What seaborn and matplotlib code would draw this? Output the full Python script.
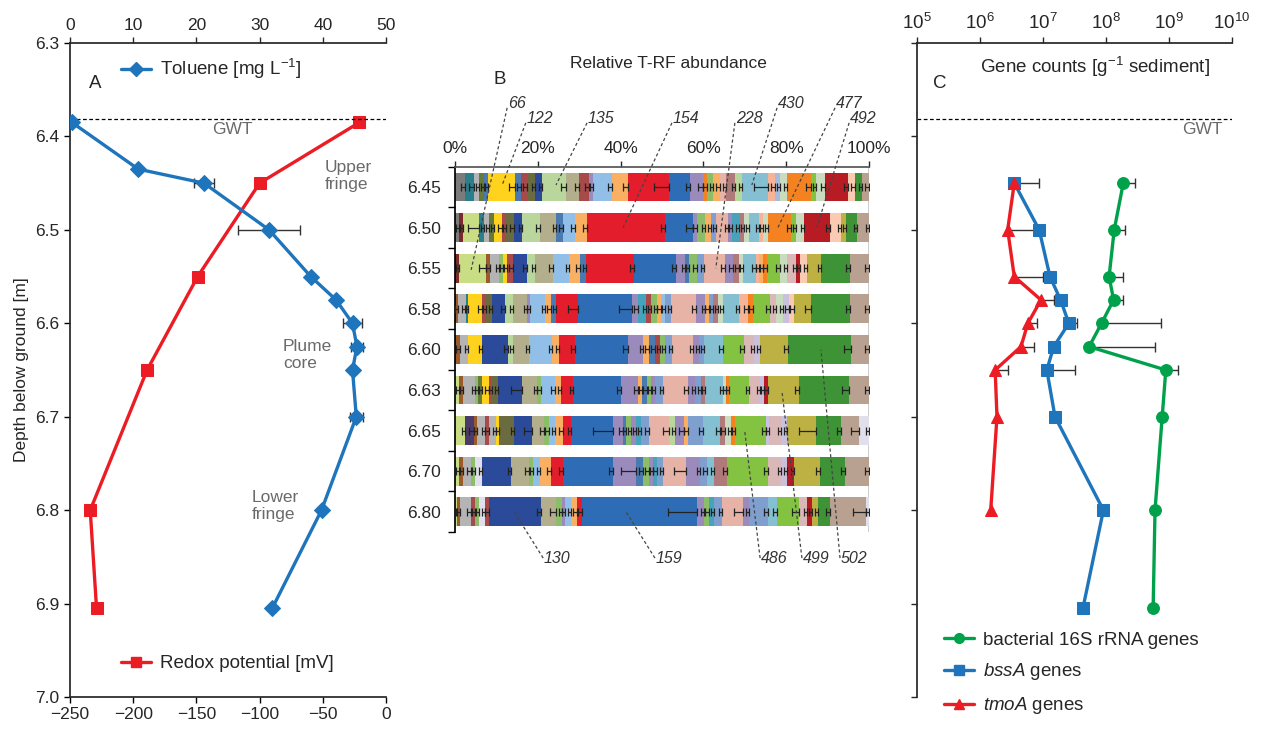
import numpy as np
import matplotlib
matplotlib.use("Agg")
import matplotlib.pyplot as plt
import seaborn as sns
from matplotlib.lines import Line2D
from matplotlib.ticker import FixedLocator, NullLocator, NullFormatter, FuncFormatter

sns.set_theme(style="ticks")
plt.rcParams['font.family'] = ['Liberation Sans', 'DejaVu Sans']
plt.rcParams['mathtext.fontset'] = 'custom'
plt.rcParams['mathtext.rm'] = 'Liberation Sans'
plt.rcParams['mathtext.it'] = 'Liberation Sans:italic'
plt.rcParams['mathtext.default'] = 'regular'

# ---------------- Panel A data ----------------
tol_depth = [6.385, 6.435, 6.45, 6.50, 6.55, 6.575, 6.60, 6.625, 6.65, 6.70, 6.80, 6.905]
tol_val = [0.3, 10.8, 21.2, 31.5, 38.1, 42.1, 44.7, 45.4, 44.7, 45.3, 39.8, 32.0]
tol_err = [0, 0, 1.6, 4.9, 0, 0, 1.45, 0.9, 0, 1.0, 0, 0]
redox_depth = [6.385, 6.45, 6.55, 6.65, 6.80, 6.905]
redox_val = [-21, -100, -149, -189, -234, -229]
gwt_depth = 6.381

# ---------------- Panel C data ----------------
gene_depth = [6.45, 6.50, 6.55, 6.575, 6.60, 6.625, 6.65, 6.70, 6.80, 6.905]
s16_val = [1.88e8, 1.35e8, 1.12e8, 1.32e8, 8.5e7, 5.4e7, 8.9e8, 7.8e8, 6.0e8, 5.6e8]
s16_err = [1.0e8, 6.5e7, 7.4e7, 5.4e7, 6.55e8, 5.5e8, 5.1e8, 0, 0, 0]
bss_val = [3.5e6, 8.7e6, 1.29e7, 1.9e7, 2.57e7, 1.48e7, 1.15e7, 1.55e7, 9.1e7, 4.3e7]
bss_err = [5.0e6, 0, 0, 0, 9.0e6, 0, 2.1e7, 0, 0, 0]
tmo_depth = [6.45, 6.50, 6.55, 6.575, 6.60, 6.625, 6.65, 6.70, 6.80]
tmo_val = [3.5e6, 2.75e6, 3.5e6, 9.3e6, 5.75e6, 4.47e6, 1.74e6, 1.86e6, 1.48e6]
tmo_err = [0, 5.95e6, 6.5e6, 5.8e6, 2.2e6, 2.6e6, 1.06e6, 0, 0]

# ---------------- Panel B data ----------------
PAL = {
    'gray': '#7b7b7b', 'darkred': '#7a2a2a', 'ygreen': '#c9dd85', 'dpurple': '#4b3b6b',
    'brown': '#9a5a2a', 'teal': '#2b7f8c', 'lgray': '#b4b4b4', 'brick': '#a84a4a',
    'glight': '#8cbd68', 'olive': '#667a3c', 'steel': '#4a7ab0', 'yellow': '#ffd21e',
    'odark': '#6b6b40', 'plav': '#e2dfec', 'dblue': '#2b4a99', 'lgreen': '#b9d69c',
    'tan': '#b3ae8b', 'purple': '#9b8bbd', 'lblue': '#92bfe8', 'lorange': '#f9b062',
    'red': '#e31d2b', 'blue': '#2e6db5', 'tcyan': '#45a4bc', 'orange': '#f58220',
    'lsteel': '#7f9fcf', 'pink': '#e6b3a6', 'mauve': '#b07a7a', 'pgreen': '#c9dcbf',
    'lcyan': '#84c0d2', 'salmon': '#f6b395', 'bgray': '#a9badf', 'lime': '#84c341',
    'pinkish': '#dbb8b8', 'lav': '#c9c1dc', 'dred': '#b71c25', 'peach': '#fbcab3',
    'khaki': '#bdb144', 'green': '#3f9337', 'taupe': '#b9a192',
}

depth_labels = ["6.45", "6.50", "6.55", "6.58", "6.60", "6.63", "6.65", "6.70", "6.80"]

# (T-RF colour key, relative abundance %, SD %)
trf_645 = [("gray", 2.4, 1.0), ("teal", 2.2, 1.1), ("lgray", 1.2, .8), ("olive", 1.2, .8), ("steel", 1.0, .8),
           ("yellow", 6.5, 1.5), ("steel", 1.4, .9), ("brick", 1.4, .8), ("odark", 2.1, .8), ("dblue", 1.7, .9),
           ("lgreen", 5.7, 1.2), ("tan", 3.2, .9), ("brick", 2.3, .9), ("purple", 1.1, .8), ("lblue", 4.6, 1.1),
           ("lorange", 3.7, 1.0), ("red", 10.1, 3.8), ("blue", 5.0, 1.0), ("purple", 3.0, 1.0), ("orange", 1.0, .8),
           ("glight", 1.6, .8), ("lorange", 1.5, .8), ("pink", 1.6, .8), ("mauve", 2.2, .9), ("lgreen", 1.7, .8),
           ("lcyan", 6.2, 3.4), ("salmon", 1.6, .8), ("bgray", 1.4, .8), ("pgreen", 1.6, .8), ("orange", 5.7, 1.0),
           ("lime", 1.4, .8), ("pgreen", 2.0, .9), ("dred", 5.6, 1.0), ("peach", 1.6, .8), ("green", 1.9, .9),
           ("taupe", 1.6, .9)]
trf_650 = [("gray", 1.0, .8), ("darkred", 0.9, .8), ("ygreen", 4.0, 2.7), ("teal", 1.1, .8), ("lgray", 1.2, .8),
           ("olive", 1.2, .8), ("yellow", 1.9, .9), ("brick", 1.1, .8), ("odark", 1.8, .8), ("dblue", 2.1, .8),
           ("lgreen", 4.2, .9), ("tan", 4.0, .9), ("steel", 1.5, .8), ("lblue", 3.0, .9), ("lorange", 2.9, .9),
           ("red", 18.9, 1.0), ("blue", 6.6, 1.6), ("purple", 1.0, .8), ("glight", 2.1, .8), ("lorange", 1.4, .8),
           ("lsteel", 1.1, .8), ("pink", 3.0, .9), ("purple", 1.0, .8), ("tcyan", 1.7, .8), ("mauve", 1.2, .8),
           ("pgreen", 1.2, .8), ("lcyan", 2.3, .8), ("salmon", 1.0, .8), ("pgreen", 1.2, .8), ("orange", 5.6, 1.0),
           ("lime", 1.2, .8), ("pgreen", 2.0, .8), ("dred", 6.2, .9), ("peach", 2.7, .8), ("khaki", 1.2, .8),
           ("green", 2.6, .8), ("taupe", 2.9, .8)]
trf_655 = [("darkred", 1.0, .8), ("ygreen", 6.6, 1.8), ("brown", 0.8, .8), ("lgray", 2.2, .8), ("glight", 1.0, .8),
           ("yellow", 1.0, .8), ("brick", 1.3, .8), ("dblue", 3.4, .9), ("lgreen", 2.1, .8), ("tan", 4.3, .9),
           ("lblue", 3.9, .9), ("lorange", 2.6, .9), ("steel", 1.4, .8), ("red", 11.7, 1.0), ("blue", 10.2, 1.0),
           ("purple", 2.1, .8), ("steel", 1.0, .8), ("glight", 1.8, .8), ("lsteel", 1.8, .8), ("pink", 5.1, 1.0),
           ("purple", 1.8, .8), ("mauve", 1.4, .8), ("pgreen", 1.1, .8), ("lcyan", 3.0, .9), ("salmon", 0.9, .8),
           ("lorange", 1.0, .8), ("orange", 0.8, .8), ("lime", 3.1, .8), ("pgreen", 1.8, .8), ("pinkish", 2.2, .8),
           ("dred", 1.0, .8), ("peach", 1.7, .8), ("khaki", 3.4, .8), ("green", 6.8, .9), ("taupe", 4.7, .9)]
trf_658 = [("brown", 0.8, .8), ("lgray", 1.8, .8), ("teal", 0.6, .8), ("yellow", 3.3, .9), ("brick", 1.1, .8),
           ("odark", 1.4, .8), ("dblue", 3.1, .9), ("lgreen", 1.9, .8), ("tan", 3.5, .9), ("purple", 0.6, .8),
           ("lblue", 3.7, .9), ("lorange", 1.3, .8), ("steel", 1.4, .8), ("red", 5.3, 2.4), ("blue", 12.9, 3.0),
           ("purple", 1.4, .8), ("tcyan", 2.0, .8), ("brick", 1.2, .8), ("glight", 1.6, .8), ("lorange", 0.8, .8),
           ("lblue", 1.1, .8), ("lsteel", 1.4, .8), ("pink", 5.9, .9), ("purple", 2.4, .9), ("lorange", 0.8, .8),
           ("lsteel", 1.1, .8), ("mauve", 1.1, .8), ("pgreen", 1.3, .8), ("lcyan", 3.9, .9), ("salmon", 2.0, .8),
           ("orange", 1.2, .8), ("lime", 4.2, .9), ("pinkish", 1.5, .8), ("pgreen", 1.6, .8), ("lav", 1.4, .8),
           ("peach", 1.2, .8), ("khaki", 4.3, 1.6), ("green", 9.4, 1.0), ("taupe", 4.5, .9)]
trf_660 = [("brown", 1.1, .8), ("lgray", 2.1, .8), ("yellow", 3.4, .9), ("dblue", 6.1, .8), ("lgreen", 1.3, .8),
           ("tan", 3.9, .8), ("lblue", 5.5, .8), ("lorange", 1.8, .8), ("red", 3.8, .9), ("blue", 12.7, 1.0),
           ("purple", 3.8, .8), ("lorange", 1.3, .8), ("steel", 1.4, .8), ("brick", 1.3, .8), ("glight", 1.3, .8),
           ("lsteel", 1.6, .8), ("pink", 5.2, .8), ("purple", 1.4, .8), ("lsteel", 1.2, .8), ("lcyan", 4.5, .9),
           ("lime", 5.0, .8), ("pinkish", 2.6, .9), ("lav", 1.4, .8), ("khaki", 6.7, .9), ("green", 15.3, 1.8),
           ("taupe", 4.3, .9)]
trf_663 = [("ygreen", 1.0, .8), ("brown", 0.9, .8), ("lgray", 2.9, .8), ("glight", 0.8, .8), ("olive", 1.0, .8),
           ("yellow", 1.5, .8), ("brick", 0.8, .8), ("odark", 1.6, .8), ("dblue", 5.8, 2.8), ("tan", 3.6, .9),
           ("glight", 0.8, .8), ("lblue", 3.5, .9), ("lorange", 1.4, .8), ("red", 2.9, .8), ("blue", 11.6, 1.0),
           ("purple", 4.0, .8), ("lorange", 1.1, .8), ("steel", 1.1, .8), ("glight", 1.0, .8), ("purple", 1.1, .8),
           ("lsteel", 1.9, .8), ("pink", 5.9, .8), ("purple", 1.8, .8), ("lsteel", 1.4, .8), ("mauve", 1.1, .8),
           ("lcyan", 4.2, .8), ("pgreen", 0.8, .8), ("orange", 0.8, .8), ("lime", 4.8, .8), ("pinkish", 2.6, .8),
           ("lav", 1.0, .8), ("dred", 0.8, .8), ("khaki", 7.6, .9), ("green", 12.1, 1.8), ("taupe", 4.8, .9)]
trf_665 = [("ygreen", 2.4, .8), ("dpurple", 2.2, 1.1), ("brown", 0.8, .8), ("lgray", 1.9, .8), ("brick", 0.8, .8),
           ("lgray", 1.9, .9), ("yellow", 0.6, .8), ("odark", 3.7, .8), ("dblue", 4.2, 1.9), ("tan", 3.0, .9),
           ("glight", 1.1, .8), ("lblue", 1.6, .8), ("lorange", 1.8, .8), ("red", 2.0, .8), ("blue", 10.1, 4.8),
           ("purple", 2.4, .8), ("steel", 0.8, .8), ("glight", 1.2, .8), ("purple", 1.2, .8), ("tcyan", 1.2, .8),
           ("lsteel", 1.9, .8), ("pink", 5.0, 1.6), ("lgreen", 1.4, .8), ("purple", 2.0, 1.1), ("lorange", 1.0, .8),
           ("lsteel", 3.6, .8), ("lcyan", 4.1, .9), ("mauve", 1.2, .8), ("pgreen", 1.6, .8), ("orange", 1.0, .8),
           ("lime", 7.3, .8), ("lav", 0.9, .8), ("pinkish", 2.9, .8), ("lav", 1.4, .8), ("khaki", 6.9, 4.0),
           ("green", 6.2, 1.0), ("taupe", 4.3, 2.0), ("plav", 2.4, .8)]
trf_670 = [("ygreen", 1.0, .8), ("brown", 0.9, .8), ("lgray", 1.9, .8), ("glight", 1.0, .8), ("plav", 1.7, .8),
           ("dblue", 7.0, .8), ("tan", 4.4, .9), ("glight", 1.0, .8), ("lblue", 1.6, .8), ("lorange", 2.6, .9),
           ("red", 2.9, .9), ("blue", 12.1, .8), ("purple", 5.6, 3.6), ("steel", 1.6, .9), ("glight", 1.5, .8),
           ("purple", 1.1, .8), ("tcyan", 0.8, .8), ("lsteel", 1.6, .8), ("pink", 5.5, 3.0), ("purple", 3.4, .8),
           ("lsteel", 1.6, .8), ("lcyan", 1.8, .8), ("mauve", 3.0, .8), ("lime", 9.9, .8), ("pinkish", 3.2, .8),
           ("lav", 1.6, .8), ("dred", 1.7, .8), ("khaki", 6.2, .9), ("green", 5.9, .9), ("taupe", 5.9, .9)]
trf_680 = [("ygreen", 0.6, .8), ("brown", 0.5, .8), ("lgray", 2.7, .8), ("brick", 1.0, .8), ("glight", 1.1, .8),
           ("plav", 1.4, .8), ("brick", 0.8, .8), ("dblue", 12.6, .8), ("tan", 3.8, 1.5), ("glight", 1.3, .8),
           ("purple", 0.8, .8), ("lblue", 1.4, .8), ("lorange", 1.4, .8), ("red", 1.2, .8), ("blue", 27.8, 7.0),
           ("purple", 1.8, .8), ("glight", 1.1, .8), ("tcyan", 1.3, .8), ("lsteel", 1.9, .8), ("pink", 5.0, 2.0),
           ("purple", 1.6, .8), ("lsteel", 4.4, .9), ("lcyan", 2.2, .8), ("lime", 5.4, 1.8), ("pinkish", 1.9, .8),
           ("dred", 1.3, .8), ("khaki", 1.4, .8), ("green", 2.8, .8), ("taupe", 8.7, 3.0), ("plav", 0.8, .8)]
trf_rows = [trf_645, trf_650, trf_655, trf_658, trf_660, trf_663, trf_665, trf_670, trf_680]

trf_top_labels = ["66", "122", "135", "154", "228", "430", "477", "492"]
trf_top_text = [(12.6, -1.95), (17.1, -1.58), (31.9, -1.58), (52.4, -1.58), (67.6, -1.58), (77.8, -1.95), (91.8, -1.95), (95.2, -1.58)]
trf_top_target = [(3.9, 2.04), (11.4, -0.05), (24.4, -0.05), (40.6, 1.0), (63.0, 2.0), (71.7, -0.05), (78.0, 1.0), (87.4, 1.0)]
trf_bot_labels = ["130", "159", "486", "499", "502"]
trf_bot_text = [(21.3, 9.14), (48.3, 9.14), (73.7, 9.14), (83.8, 9.14), (93.0, 9.14)]
trf_bot_target = [(14.3, 8.0), (41.3, 8.0), (70.0, 6.03), (79.0, 5.05), (88.4, 4.01)]

BLUE = '#1f75bb'
RED = '#ec1c24'
GREEN = '#00a14b'
GRAYTXT = '#6a6a6a'
W, H = 1270, 733

fig = plt.figure(figsize=(12.7, 7.33), dpi=100)
fig.patch.set_facecolor('white')

def fx(px):
    return px / W

def fy(py):
    return 1 - py / H

TICKFS = 12.5

# ================= Panel A =================
axA = fig.add_axes([fx(70), fy(697), fx(386) - fx(70), fy(43) - fy(697)])
axA.set_facecolor('white')
sns.lineplot(x=redox_val, y=redox_depth, sort=False, estimator=None, ax=axA, color=RED, lw=2.4,
             marker='s', markersize=8, markeredgecolor=RED, legend=False)
axA.set_xlim(-250, 0)
axA.set_ylim(7.0, 6.3)
axA.set_xticks(np.arange(-250, 1, 50))
axA.set_yticks(np.round(np.arange(6.3, 7.01, 0.1), 1))
axA.set_yticklabels([f"{v:.1f}" for v in np.arange(6.3, 7.01, 0.1)])
axA.set_xlabel('')
axA.set_ylabel('')
axA.axhline(gwt_depth, color='black', ls=(0, (3, 2)), lw=0.9)
for s in ['right', 'top']:
    axA.spines[s].set_visible(False)
axA.tick_params(direction='out', length=4, labelsize=TICKFS, color='black', width=1)

axA2 = axA.twiny()
axA2.errorbar([v for v, e in zip(tol_val, tol_err) if e > 0],
              [d for d, e in zip(tol_depth, tol_err) if e > 0],
              xerr=[e for e in tol_err if e > 0], fmt='none', ecolor='#333333', elinewidth=1.0, capsize=3.5, zorder=1)
sns.lineplot(x=tol_val, y=tol_depth, sort=False, estimator=None, ax=axA2, color=BLUE, lw=2.4,
             marker='D', markersize=8, markeredgecolor=BLUE, legend=False, zorder=3)
axA2.set_xlim(0, 50)
axA2.set_ylim(7.0, 6.3)
axA2.set_xticks(np.arange(0, 51, 10))
axA2.set_xlabel('')
axA2.set_ylabel('')
for s in ['right', 'bottom', 'left']:
    axA2.spines[s].set_visible(False)
axA2.spines['top'].set_visible(True)
axA2.tick_params(axis='x', direction='out', length=4, labelsize=TICKFS, width=1)

legA1 = axA2.legend(handles=[Line2D([], [], color=BLUE, lw=2.4, marker='D', markersize=7)],
                    labels=['Toluene [mg L$^{-1}$]'], loc='upper left', bbox_to_anchor=(0.16, 0.978),
                    frameon=False, fontsize=13.5, handlelength=1.6, handletextpad=0.5,
                    borderpad=0, borderaxespad=0)
axA2.add_artist(legA1)
axA2.legend(handles=[Line2D([], [], color=RED, lw=2.4, marker='s', markersize=7)],
            labels=['Redox potential [mV]'], loc='upper left', bbox_to_anchor=(0.16, 0.064),
            frameon=False, fontsize=13.5, handlelength=1.6, handletextpad=0.5,
            borderpad=0, borderaxespad=0)

fig.text(fx(95), fy(83), 'A', fontsize=13.5, ha='center', va='center')
fig.text(fx(232), fy(130), 'GWT', fontsize=12.5, ha='center', va='center', color=GRAYTXT)
fig.text(fx(325), fy(176), 'Upper\nfringe', fontsize=12.5, ha='left', va='center', color=GRAYTXT, linespacing=1.1)
fig.text(fx(283), fy(355), 'Plume\ncore', fontsize=12.5, ha='left', va='center', color=GRAYTXT, linespacing=1.1)
fig.text(fx(252), fy(506), 'Lower\nfringe', fontsize=12.5, ha='left', va='center', color=GRAYTXT, linespacing=1.1)
fig.text(fx(22), fy(370), 'Depth below ground [m]', fontsize=12.5, rotation=90, ha='center', va='center')

# ================= Panel B =================
row_h = 40.6
axB = fig.add_axes([fx(455), fy(187 + 8.5 * row_h), fx(869) - fx(455), 9 * row_h / H])
axB.set_facecolor('white')
for i, segs in enumerate(trf_rows):
    left = 0.0
    ends, errs = [], []
    for key, val, err in segs:
        axB.barh(i, val, left=left, height=0.71, color=PAL[key], edgecolor='none', linewidth=0, zorder=2)
        left += val
        ends.append(left)
        errs.append(err)
    axB.errorbar(ends, [i] * len(ends), xerr=[errs, [0] * len(errs)], fmt='none',
                 ecolor='#222222', elinewidth=0.9, capsize=2.8, capthick=0.9, zorder=3)
axB.set_xlim(0, 100)
axB.set_ylim(8.5, -0.5)
axB.axvline(100, color='#c4c4c4', lw=1.2, zorder=1)
axB.xaxis.tick_top()
axB.set_xticks(np.arange(0, 101, 20))
axB.set_xticklabels([f"{v}%" for v in range(0, 101, 20)])
axB.set_yticks(range(len(depth_labels)))
axB.set_yticklabels(depth_labels)
axB.yaxis.set_minor_locator(FixedLocator(np.arange(-0.5, 8.6, 1.0)))
axB.tick_params(axis='y', which='major', length=0, pad=10, labelsize=TICKFS)
axB.tick_params(axis='y', which='minor', length=5, direction='out', width=1, color='black')
axB.tick_params(axis='x', which='major', length=4, direction='out', pad=4, labelsize=TICKFS, width=1)
for s in ['right', 'bottom']:
    axB.spines[s].set_visible(False)
axB.spines['top'].set_color('#555555')
axB.spines['left'].set_color('black')

dash = (0, (2.5, 2))
for lab, (tx, ty), (gx, gy) in zip(trf_top_labels, trf_top_text, trf_top_target):
    axB.plot([tx, gx], [ty, gy], color='#444444', lw=0.9, ls=dash, clip_on=False, zorder=4)
    axB.text(tx + 0.2, ty, lab, fontsize=11.5, style='italic', color='#333333', ha='left', va='baseline', clip_on=False)
for lab, (tx, ty), (gx, gy) in zip(trf_bot_labels, trf_bot_text, trf_bot_target):
    axB.plot([tx, gx], [ty, gy], color='#444444', lw=0.9, ls=dash, clip_on=False, zorder=4)
    axB.text(tx + 0.2, ty, lab, fontsize=11.5, style='italic', color='#333333', ha='left', va='center', clip_on=False)

fig.text(fx(668), fy(63), 'Relative T-RF abundance', fontsize=12.5, ha='center', va='center')
fig.text(fx(500), fy(80), 'B', fontsize=13.5, ha='center', va='center')

# ================= Panel C =================
axC = fig.add_axes([fx(917), fy(697), fx(1232) - fx(917), fy(43) - fy(697)])
axC.set_facecolor('white')
axC.set_xscale('log')

def err_points(vals, depths, errs):
    sel = [(v, d, e) for v, d, e in zip(vals, depths, errs) if e > 0]
    return [s[0] for s in sel], [s[1] for s in sel], [s[2] for s in sel]

for vals, depths, errs in [(s16_val, gene_depth, s16_err), (bss_val, gene_depth, bss_err), (tmo_val, tmo_depth, tmo_err)]:
    v, d, e = err_points(vals, depths, errs)
    axC.errorbar(v, d, xerr=[[0] * len(e), e], fmt='none', ecolor='#333333', elinewidth=1.0,
                 capsize=3.5, capthick=1.0, zorder=1)

sns.lineplot(x=s16_val, y=gene_depth, sort=False, estimator=None, ax=axC, color=GREEN, lw=2.4,
             marker='o', markersize=8.5, markeredgecolor=GREEN, legend=False, zorder=3)
sns.lineplot(x=bss_val, y=gene_depth, sort=False, estimator=None, ax=axC, color=BLUE, lw=2.4,
             marker='s', markersize=8, markeredgecolor=BLUE, legend=False, zorder=3)
sns.lineplot(x=tmo_val, y=tmo_depth, sort=False, estimator=None, ax=axC, color=RED, lw=2.4,
             marker='^', markersize=8.5, markeredgecolor=RED, legend=False, zorder=3)
axC.set_xlim(1e5, 1e10)
axC.set_ylim(7.0, 6.3)
axC.set_xlabel('')
axC.set_ylabel('')
axC.xaxis.tick_top()
axC.set_xticks([1e5, 1e6, 1e7, 1e8, 1e9, 1e10])
axC.xaxis.set_major_formatter(FuncFormatter(lambda v, p: f"10$^{{{int(round(np.log10(v)))}}}$"))
axC.xaxis.set_minor_locator(NullLocator())
axC.set_yticks(np.arange(6.3, 7.01, 0.1))
axC.yaxis.set_major_formatter(NullFormatter())
axC.tick_params(direction='out', length=4, labelsize=13.5, width=1)
for s in ['right', 'bottom']:
    axC.spines[s].set_visible(False)
axC.axhline(gwt_depth, color='black', ls=(0, (3, 2)), lw=0.9)

axC.legend(handles=[Line2D([], [], color=GREEN, lw=2.4, marker='o', markersize=7),
                    Line2D([], [], color=BLUE, lw=2.4, marker='s', markersize=7),
                    Line2D([], [], color=RED, lw=2.4, marker='^', markersize=7)],
           labels=['bacterial 16S rRNA genes', '$\\it{bssA}$ genes', '$\\it{tmoA}$ genes'],
           loc='upper left', bbox_to_anchor=(0.086, 0.100), frameon=False, fontsize=13.5,
           handlelength=1.6, handletextpad=0.5, borderpad=0, borderaxespad=0, labelspacing=0.68)

fig.text(fx(940), fy(83), 'C', fontsize=13.5, ha='center', va='center')
fig.text(fx(1095), fy(67), 'Gene counts [g$^{-1}$ sediment]', fontsize=13.5, ha='center', va='center')
fig.text(fx(1202), fy(130), 'GWT', fontsize=12.5, ha='center', va='center', color=GRAYTXT)

fig.savefig('out.png', dpi=100, facecolor='white')
